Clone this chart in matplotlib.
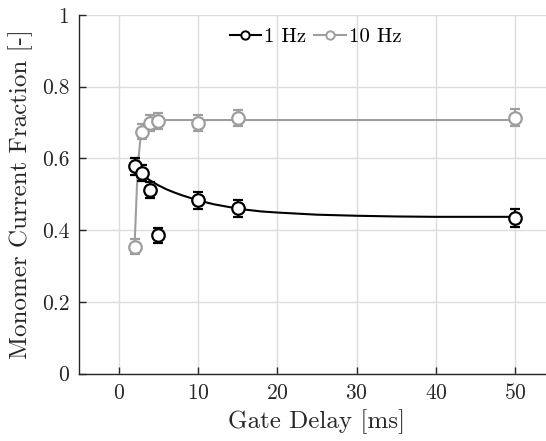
import matplotlib
matplotlib.use("Agg")
import matplotlib.pyplot as plt

# ------------------------------------------------------------
# data
# ------------------------------------------------------------
delay_ms = [2, 3, 4, 5, 10, 15, 50]

frac_1hz = [0.578, 0.560, 0.512, 0.385, 0.483, 0.461, 0.434]
err_1hz = [0.024, 0.022, 0.022, 0.022, 0.024, 0.024, 0.024]

frac_10hz = [0.354, 0.675, 0.698, 0.705, 0.698, 0.713, 0.714]
err_10hz = [0.022, 0.022, 0.022, 0.022, 0.022, 0.022, 0.024]

# fitted curves
fit_x_1hz = [2, 3, 4, 5, 6, 7, 8, 9, 10, 12, 14, 16, 18, 20, 25, 30, 35,
             40, 50]
fit_y_1hz = [0.568, 0.552, 0.538, 0.525, 0.514, 0.505, 0.497, 0.490,
             0.483, 0.472, 0.464, 0.457, 0.452, 0.449, 0.443, 0.440,
             0.438, 0.437, 0.437]

fit_x_10hz = [2, 2.3, 2.5, 2.75, 3.0, 3.25, 3.5, 4, 5, 10, 50]
fit_y_10hz = [0.354, 0.52, 0.60, 0.656, 0.683, 0.696, 0.702, 0.706,
              0.707, 0.707, 0.707]

x_ticks = [0, 10, 20, 30, 40, 50]
y_ticks = [0, 0.2, 0.4, 0.6, 0.8, 1]

BLACK = "black"
GREY = "#9e9e9e"

plt.rcParams["font.family"] = ["cmr10", "DejaVu Serif"]
plt.rcParams["axes.formatter.use_mathtext"] = True
plt.rcParams["mathtext.fontset"] = "cm"

fig = plt.figure(figsize=(5.46, 4.41), dpi=100)
ax = fig.add_axes([79 / 546, 67.5 / 441, 476 / 546, 358.5 / 441])

for x, y, e, fx, fy, c, lab in [
    (delay_ms, frac_1hz, err_1hz, fit_x_1hz, fit_y_1hz, BLACK, "1 Hz"),
    (delay_ms, frac_10hz, err_10hz, fit_x_10hz, fit_y_10hz, GREY, "10 Hz"),
]:
    ax.plot(fx, fy, color=c, lw=1.5, zorder=2)
    ax.errorbar(x, y, yerr=e, fmt="o", color=c, mfc="white", mec=c,
                ms=9, mew=1.6, elinewidth=1.5, capsize=3.5, capthick=1.5,
                zorder=3)
    # legend proxy
    ax.plot([], [], "-o", color=c, mfc="white", mec=c, ms=6, mew=1.4,
            lw=1.5, label=lab)

ax.set_xlim(-5, 55)
ax.set_ylim(0, 1)
ax.set_xticks(x_ticks)
ax.set_yticks(y_ticks)
ax.set_yticklabels(["0", "0.2", "0.4", "0.6", "0.8", "1"])
ax.grid(True, color="#dcdcdc", lw=1.0)
ax.set_axisbelow(True)

for s in ("top", "right"):
    ax.spines[s].set_visible(False)
for s in ("left", "bottom"):
    ax.spines[s].set_color("#262626")
    ax.spines[s].set_linewidth(1.0)

ax.tick_params(direction="in", length=5, width=1.0, color="#262626",
               labelsize=15.5, labelcolor="#262626", pad=7)

ax.set_xlabel("Gate Delay [ms]", fontsize=18, color="#262626", labelpad=4)
ax.set_ylabel("Monomer Current Fraction [-]", fontsize=18, color="#262626",
              labelpad=6)

leg = ax.legend(loc="center", bbox_to_anchor=(0.497, 0.94), ncol=2,
                frameon=False, fontsize=15, handlelength=1.5,
                handletextpad=0.15, columnspacing=0.4,
                borderpad=0.2)

fig.savefig("out.png", dpi=100)
